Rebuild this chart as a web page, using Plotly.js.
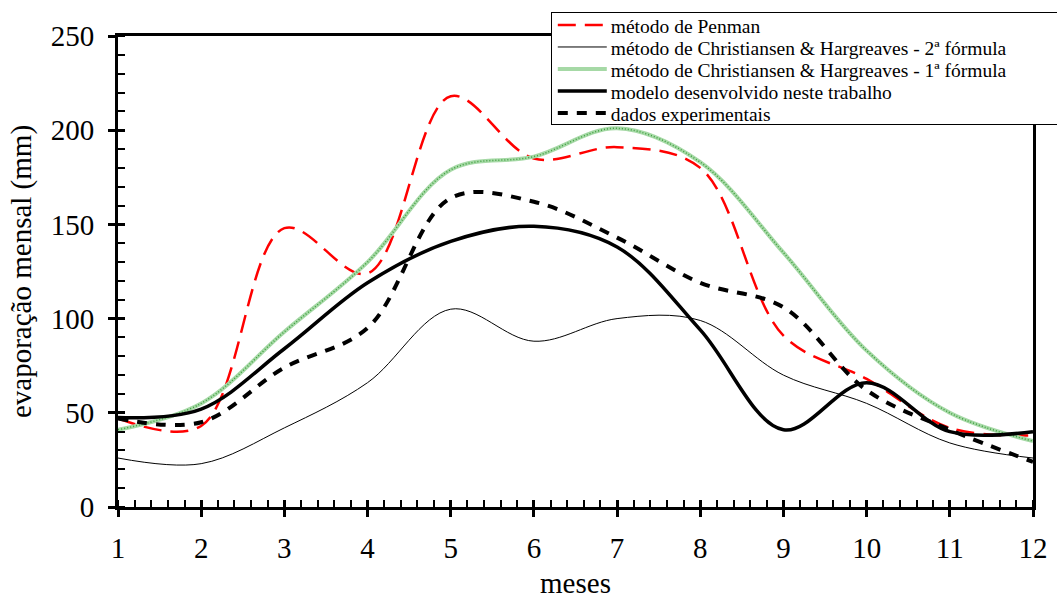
<!DOCTYPE html>
<html><head><meta charset="utf-8">
<script src="https://cdn.plot.ly/plotly-3.0.1.min.js"></script>
<style>body{margin:0;background:#fff}#c{width:1057px;height:599px}</style>
</head><body><div id="c"></div>
<script>
const meses = [1,2,3,4,5,6,7,8,9,10,11,12];
const penman = [47, 43, 148, 124, 218, 185, 191, 180, 91, 68, 42, 38];
const ch2 = [26, 23, 42, 66, 105, 88, 100, 99, 70, 55, 34, 26];
const ch1 = [41, 55, 93, 130, 179, 186, 201, 183, 135, 83, 50, 35];
const modelo = [47.5, 52, 84, 119, 141, 149, 138, 94, 41, 66, 40, 40];
const dados = [47, 45, 74, 95, 164, 162, 143, 119, 106, 62, 41, 24];
const nomes = ["método de Penman","método de Christiansen & Hargreaves - 2ª fórmula","método de Christiansen & Hargreaves - 1ª fórmula","modelo desenvolvido neste trabalho","dados experimentais"];

const F = "Liberation Serif";
const traces = [
 {x:meses,y:penman,name:nomes[0],mode:'lines',line:{color:'#ff0000',width:2.5,dash:'18px,9px',shape:'spline',smoothing:1}},
 {x:meses,y:ch2,name:nomes[1],mode:'lines',line:{color:'#000',width:1,shape:'spline',smoothing:1}},
 {x:meses,y:ch1,name:nomes[2],mode:'lines',line:{color:'#a6d9a6',width:4,shape:'spline',smoothing:1}},
 {x:meses,y:ch1,showlegend:false,mode:'lines',hoverinfo:'skip',line:{color:'#3f9f3f',width:1.5,dash:'1px,2px',shape:'spline',smoothing:1}},
 {x:meses,y:modelo,name:nomes[3],mode:'lines',line:{color:'#000',width:3.5,shape:'spline',smoothing:1}},
 {x:meses,y:dados,name:nomes[4],mode:'lines',line:{color:'#000',width:4,dash:'10px,9px',shape:'spline',smoothing:1}}
];
const layout = {
 width:1057,height:599,
 margin:{l:118,r:24,t:36,b:92},
 paper_bgcolor:'#fff',plot_bgcolor:'#fff',
 font:{family:F,color:'#000'},
 showlegend:true,
 legend:{x:0.473,y:1.051,xanchor:'left',yanchor:'top',bgcolor:'#fff',bordercolor:'#000',borderwidth:1,
   font:{family:F,size:19.5,color:'#000'},tracegroupgap:0,itemwidth:50},
 xaxis:{range:[1,12],tick0:1,dtick:1,showgrid:false,zeroline:false,showline:true,linewidth:3,linecolor:'#000',mirror:true,automargin:false,
   ticks:'outside',ticklen:7,tickwidth:3,tickcolor:'#000',tickfont:{family:F,size:29,color:'#000'},ticklabelstandoff:6,
   minor:{dtick:0.2,ticks:'inside',ticklen:7,tickwidth:2,tickcolor:'#000',showgrid:false},
   title:{text:'meses',font:{family:F,size:29,color:'#000'},standoff:20}},
 yaxis:{range:[0,250],tick0:0,dtick:50,showgrid:false,zeroline:false,showline:true,linewidth:3,linecolor:'#000',mirror:true,automargin:false,
   ticks:'outside',ticklen:7,tickwidth:3,tickcolor:'#000',tickfont:{family:F,size:29,color:'#000'},ticklabelstandoff:8,
   minor:{dtick:10,ticks:'inside',ticklen:7,tickwidth:2,tickcolor:'#000',showgrid:false},
   title:{text:'evaporação mensal (mm)',font:{family:F,size:29,color:'#000'},standoff:11}},
 xaxis2:{overlaying:'x',range:[1,12],dtick:1,tick0:1,ticks:'inside',ticklen:7,tickwidth:3,tickcolor:'#000',showticklabels:false,showgrid:false,zeroline:false,side:'bottom',anchor:'y',automargin:false},
 yaxis2:{overlaying:'y',range:[0,250],dtick:50,tick0:0,ticks:'inside',ticklen:7,tickwidth:3,tickcolor:'#000',showticklabels:false,showgrid:false,zeroline:false,side:'left',anchor:'x',automargin:false}
};
traces.push({x:[1],y:[-100],xaxis:'x2',yaxis:'y2',showlegend:false,mode:'markers',hoverinfo:'skip'});

function fixLegend(gd){
  const lg = gd.querySelector('g.legend');
  if(!lg) return;
  const items = lg.querySelectorAll('g.traces');
  const gap = 22, y0 = 13;
  items.forEach((it,i)=>{
    it.setAttribute('transform',`translate(0,${y0+i*gap})`);
    it.querySelectorAll('path.js-line').forEach(p=>{p.setAttribute('d','M7,0L56,0');});
  });
  const bg = lg.querySelector('rect.bg');
  if(bg){ bg.setAttribute('height', y0+(items.length-1)*gap+11); bg.setAttribute('width', 520); }
}
Plotly.newPlot('c',traces,layout,{displayModeBar:false,staticPlot:true}).then(gd=>{
  fixLegend(gd);
  gd.on('plotly_afterplot',()=>fixLegend(gd));
  setTimeout(()=>fixLegend(gd),30);
});
</script></body></html>
